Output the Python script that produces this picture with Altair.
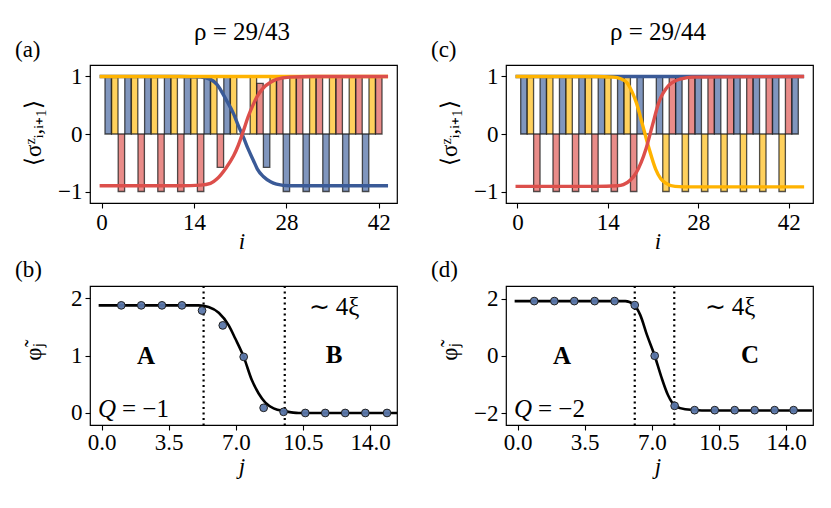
import altair as alt
import pandas as pd

# ---------------- data ----------------
# top panels: bond magnetisation <sigma^z_{i,i+1}>, bonds i = 1..N
bond_a = list(range(1, 43))
sz_a = ([1, 1, -1] * 5
        + [1, 1, -0.58, 1, 1, 0, 0, 1, 0.88, -0.58]
        + [1, 1, -1] * 5 + [1, 1])
bond_c = list(range(1, 44))
sz_c = ([1, 1, -1] * 6
        + [1, 0, 0]
        + [1, -1, 1] * 7 + [1])
sublattice = ["blue", "yellow", "red"]

# smooth sublattice curves
a_blue_x = [-0.3, 12, 15, 16.5, 17.5, 18.8, 20.0, 20.7, 21.5, 22.2, 23.0, 23.6, 24.5, 25.6, 26.5, 28.5, 32, 43.4]
a_blue_y = [1, 1, 0.99, 0.95, 0.86, 0.61, 0.35, 0.15, -0.06, -0.26, -0.46, -0.61, -0.74, -0.83, -0.87, -0.9, -0.9, -0.9]
a_yellow_x = [-0.3, 43.4]
a_yellow_y = [1, 1]
a_red_x = [-0.3, 12, 15, 16.5, 17.5, 18.8, 20.0, 20.7, 21.5, 22.2, 23.0, 23.6, 24.5, 25.6, 26.5, 28.5, 32, 43.4]
a_red_y = [-0.9, -0.9, -0.89, -0.86, -0.78, -0.6, -0.38, -0.2, 0.06, 0.3, 0.52, 0.66, 0.8, 0.9, 0.95, 0.99, 1, 1]

c_blue_x = [-0.3, 44.4]
c_blue_y = [1, 1]
c_yellow_x = [-0.3, 12, 14.9, 16, 16.9, 17.8, 18.4, 19.4, 20.4, 21.4, 22.2, 22.9, 24.4, 27, 44.4]
c_yellow_y = [1, 1, 0.99, 0.96, 0.9, 0.72, 0.55, 0.15, -0.26, -0.61, -0.78, -0.85, -0.91, -0.92, -0.92]
c_red_x = [-0.3, 12, 15.5, 16.4, 17.5, 18.4, 19.9, 20.9, 21.9, 23.4, 24.4, 25.4, 27, 44.4]
c_red_y = [-0.91, -0.91, -0.9, -0.88, -0.8, -0.67, -0.26, 0.15, 0.55, 0.84, 0.92, 0.96, 0.99, 1.0]

# bottom panels: phase field phi_j
b_j = [1.03, 2.07, 3.15, 4.19, 5.24, 6.32, 7.41, 8.45, 9.49, 10.62, 11.66, 12.70, 13.75, 14.88]
b_phi = [1.88, 1.88, 1.88, 1.88, 1.79, 1.53, 0.98, 0.09, 0.02, 0.0, 0.0, 0.0, 0.0, 0.0]
b_fit_x = [-0.15, 5.06, 5.58, 6.11, 6.63, 6.97, 7.41, 7.84, 8.19, 8.54, 8.97, 9.58, 10.27, 15.4]
b_fit_y = [1.88, 1.88, 1.85, 1.75, 1.53, 1.30, 0.98, 0.57, 0.34, 0.18, 0.08, 0.03, 0.0, 0.0]
b_walls = [5.32, 9.55]

d_j = [0.87, 1.92, 2.96, 4.02, 5.06, 6.11, 7.15, 8.19, 9.23, 10.28, 11.32, 12.36, 13.40, 14.39]
d_phi = [1.91, 1.91, 1.91, 1.91, 1.91, 1.77, 0.0, -1.75, -1.9, -1.9, -1.9, -1.9, -1.9, -1.9]
d_fit_x = [-0.15, 5.62, 6.05, 6.4, 6.75, 7.15, 7.49, 7.84, 8.22, 8.74, 9.61, 15.35]
d_fit_y = [1.91, 1.91, 1.79, 1.42, 0.72, 0.0, -0.73, -1.37, -1.75, -1.87, -1.91, -1.91]
d_walls = [6.11, 8.17]

top_xticks = [0, 14, 28, 42]
bot_xticks = [0, 3.5, 7, 10.5, 14]

# ---------------- styling ----------------
FONT = "Liberation Serif"
FS = 23
FILL = {"blue": "#4f6ea5", "yellow": "#ffbf1f", "red": "#e0605c"}
LINE = {"blue": "#3a5a97", "yellow": "#ffb300", "red": "#dc4f4b"}
W, HT, HB = 307, 138, 139


def txt(s, x, y, size=FS, **kw):
    return alt.Chart(pd.DataFrame({"t": [s]})).mark_text(
        font=FONT, fontSize=size, color="black", **kw
    ).encode(text="t:N", x=alt.value(x), y=alt.value(y))


def anchor():
    return alt.Chart(pd.DataFrame({"t": [0]})).mark_point(
        size=1, opacity=0, shape="square"
    ).encode(x=alt.value(-75), y=alt.value(-50))


def top_panel(idx, vals, curves, xmax, title, label):
    xs = alt.X("x:Q", scale=alt.Scale(domain=[-1, xmax], nice=False, zero=False),
               axis=alt.Axis(values=top_xticks, title=None, format="d"))
    ys = alt.Y("y:Q", scale=alt.Scale(domain=[-1.2, 1.2], nice=False, zero=False),
               axis=alt.Axis(values=[-1, 0, 1], title=None, format="d"))
    df = pd.DataFrame({"x": idx, "y": vals,
                       "s": [sublattice[(k - 1) % 3] for k in idx]})
    bars = alt.Chart(df).mark_bar(
        size=6.4, fillOpacity=0.72, stroke="#1a1a1a", strokeOpacity=0.75, strokeWidth=1.3
    ).encode(
        x=xs, y=ys, y2=alt.datum(0),
        color=alt.Color("s:N", scale=alt.Scale(domain=sublattice,
                                               range=[FILL[s] for s in sublattice]),
                        legend=None),
    )
    layers = [bars]
    for name, cx, cy in curves:
        layers.append(
            alt.Chart(pd.DataFrame({"x": cx, "y": cy})).mark_line(
                color=LINE[name], strokeWidth=3.4, interpolate="monotone"
            ).encode(x=xs, y=ys)
        )
    layers += [
        txt(title, 152, -33, size=25, baseline="middle", align="center"),
        txt(label, -75, -15, baseline="middle", align="left"),
        txt("⟨σᶻᵢ,ᵢ₊₁⟩", -56, 68, baseline="middle", align="center", angle=270),
        txt("i", 152, 177, baseline="middle", align="center", fontStyle="italic"),
        anchor(),
    ]
    return alt.layer(*layers).properties(width=W, height=HT)


def bottom_panel(pj, pphi, fx, fy, walls, ydom, yticks, label, right_letter,
                 xi_x, q_text):
    xs = alt.X("x:Q", scale=alt.Scale(domain=[-0.6, 15.4], nice=False, zero=False),
               axis=alt.Axis(values=bot_xticks, title=None, format=".1f",
                             labelPadding=1))
    ys = alt.Y("y:Q", scale=alt.Scale(domain=ydom, nice=False, zero=False),
               axis=alt.Axis(values=yticks, title=None, format="d"))
    wall = alt.Chart(pd.DataFrame({"x": walls})).mark_rule(
        color="black", strokeWidth=2.2, strokeDash=[2, 3.5]
    ).encode(x=xs)
    fit = alt.Chart(pd.DataFrame({"x": fx, "y": fy})).mark_line(
        color="black", strokeWidth=2.6, interpolate="monotone"
    ).encode(x=xs, y=ys)
    pts = alt.Chart(pd.DataFrame({"x": pj, "y": pphi})).mark_point(
        filled=True, size=60, fill="#5b77aa", fillOpacity=0.95,
        stroke="#222222", strokeWidth=1, opacity=1
    ).encode(x=xs, y=ys)
    layers = [
        wall, fit, pts,
        txt(label, -75, -16, baseline="middle", align="left"),
        txt("φ̃ⱼ", -56, 66, baseline="middle", align="center", angle=270),
        txt("j", 152, 181, baseline="middle", align="center", fontStyle="italic"),
        txt("A", 56, 70, size=25, baseline="middle", align="center", fontWeight="bold"),
        txt(right_letter, 244, 69, size=25, baseline="middle", align="center", fontWeight="bold"),
        txt("∼ 4ξ", xi_x, 21, size=25, baseline="middle", align="center"),
        txt("Q", 17, 123, size=25, baseline="middle", align="center", fontStyle="italic"),
        txt(q_text, 32, 123, size=25, baseline="middle", align="left"),
    ]
    return alt.layer(*layers).properties(width=W, height=HB)


pa = top_panel(bond_a, sz_a,
               [("blue", a_blue_x, a_blue_y), ("yellow", a_yellow_x, a_yellow_y),
                ("red", a_red_x, a_red_y)],
               44, "ρ = 29/43", "(a)")
pc = top_panel(bond_c, sz_c,
               [("blue", c_blue_x, c_blue_y), ("yellow", c_yellow_x, c_yellow_y),
                ("red", c_red_x, c_red_y)],
               45, "ρ = 29/44", "(c)")
pb = bottom_panel(b_j, b_phi, b_fit_x, b_fit_y, b_walls, [-0.21, 2.218], [0, 1, 2],
                  "(b)", "B", 244, "= −1")
pd_ = bottom_panel(d_j, d_phi, d_fit_x, d_fit_y, d_walls, [-2.419, 2.437], [-2, 0, 2],
                   "(d)", "C", 224, "= −2")

chart = alt.concat(
    pa, pc, pb, pd_, columns=2, bounds="flush",
    spacing=alt.RowColnumber(row=83, column=109)
).properties(
    padding=5, background="white"
).configure_axis(
    domain=False, grid=False, ticks=True, tickColor="black", tickSize=5,
    tickWidth=1.1, labelFont=FONT, labelFontSize=FS, labelColor="black",
    labelPadding=3, labelFlush=False
).configure_view(stroke="black", strokeWidth=1.2)

chart.save("out.html", embed_options={"renderer": "svg", "actions": False})
